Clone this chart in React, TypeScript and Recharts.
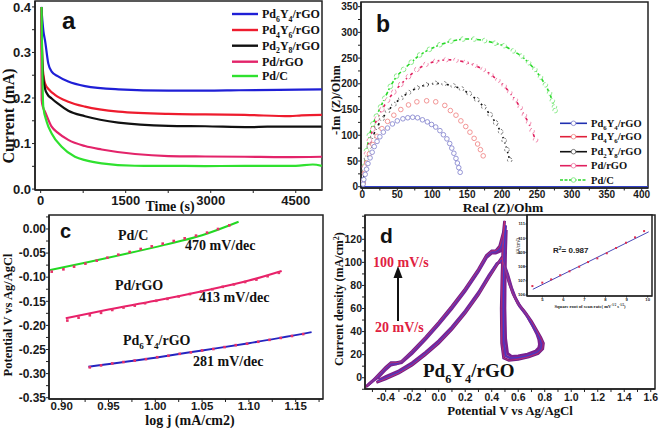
import React from 'react';
import { LineChart, ComposedChart, Line, Scatter, XAxis, YAxis, ReferenceArea, ReferenceLine } from 'recharts';

const SERIF = "'Liberation Serif', 'Times New Roman', serif";
const SANS = "'Liberation Sans', Arial, sans-serif";
const AX = '#222';

// ---------------- Panel a : current vs time ----------------
const aNames = [['Pd', '6', 'Y', '4', '/rGO'], ['Pd', '4', 'Y', '6', '/rGO'], ['Pd', '2', 'Y', '8', '/rGO'], ['Pd/rGO'], ['Pd/C']];
const aColors = ['#1f1fd6', '#ee1c2e', '#111111', '#e3246a', '#2fe12f'];
const aPd6Y4 = [[10, 0.4], [30, 0.37], [50, 0.345], [76, 0.327], [134, 0.276], [194, 0.258], [300, 0.248], [487, 0.236], [782, 0.226], [1370, 0.219], [2252, 0.216], [2900, 0.216], [3500, 0.217], [4200, 0.218], [4960, 0.219]];
const aPd4Y6 = [[10, 0.4], [20, 0.33], [35, 0.27], [50, 0.25], [76, 0.232], [150, 0.218], [252, 0.207], [487, 0.192], [782, 0.181], [1370, 0.17], [2252, 0.165], [2900, 0.164], [3600, 0.163], [4400, 0.16], [4600, 0.162], [4960, 0.163]];
const aPd2Y8 = [[12, 0.4], [22, 0.31], [35, 0.26], [50, 0.24], [76, 0.221], [120, 0.208], [194, 0.199], [300, 0.188], [487, 0.172], [782, 0.16], [1370, 0.146], [2252, 0.139], [2900, 0.138], [3700, 0.136], [4000, 0.137], [4960, 0.137]];
const aPdrGO = [[8, 0.4], [14, 0.28], [18, 0.196], [40, 0.18], [76, 0.17], [194, 0.137], [300, 0.124], [487, 0.108], [782, 0.0945], [1076, 0.087], [1664, 0.077], [2252, 0.0725], [2900, 0.0716], [3600, 0.071], [4300, 0.07], [4960, 0.071]];
const aPdC = [[15, 0.4], [25, 0.3], [35, 0.22], [46, 0.181], [106, 0.148], [194, 0.122], [370, 0.093], [605, 0.071], [800, 0.063], [1076, 0.0565], [1664, 0.0513], [2300, 0.051], [2900, 0.0505], [3600, 0.051], [4500, 0.051], [4800, 0.054], [4960, 0.051]];
const aSeries = [aPd6Y4, aPd4Y6, aPd2Y8, aPdrGO, aPdC];
const aXTicks = [0, 750, 1500, 2250, 3000, 3750, 4500];
const aYTicks = [0, 0.05, 0.1, 0.15, 0.2, 0.25, 0.3, 0.35, 0.4];

// ---------------- Panel b : Nyquist ----------------
const bNames = aNames;
const bLineColors = ['#2030b0', '#e0203a', '#111111', '#e0205f', '#27d827'];
const bCircleColors = ['#8a8ad0', '#f08a8a', '#666666', '#ef7fa7', '#7ee87e'];
const bPd6Y4 = [[1, 5], [2, 14], [4, 24], [6, 34], [8, 45], [11, 56], [14, 67], [17, 78], [21, 88], [25, 97], [30, 106], [36, 114], [43, 122], [50, 128], [58, 132], [65, 134], [72, 135], [79, 134], [86, 130], [93, 126], [99, 121], [105, 116], [111, 109], [116, 101], [121, 93], [125, 84], [128, 75], [131, 65], [134, 55], [136, 46], [138, 37], [140, 28]];
const bPd4Y6 = [[1, 6], [3, 26], [6, 46], [10, 64], [15, 82], [21, 98], [28, 113], [36, 127], [45, 139], [55, 150], [66, 159], [78, 165], [92, 167], [105, 165], [118, 158], [126, 148], [134, 139], [141, 128], [148, 117], [154, 106], [160, 94], [165, 83], [169, 72], [173, 60]];
const bPd2Y8 = [[1, 8], [3, 32], [6, 55], [10, 78], [15, 98], [21, 116], [28, 132], [36, 147], [45, 160], [55, 172], [66, 183], [78, 192], [91, 198], [104, 201], [117, 200], [130, 196], [142, 190], [153, 181], [164, 169], [174, 155], [183, 140], [191, 124], [198, 107], [203, 90], [207, 72], [211, 52]];
const bPdrGO = [[1, 10], [3, 38], [6, 64], [10, 90], [15, 112], [21, 132], [28, 150], [36, 168], [45, 184], [55, 199], [66, 214], [78, 228], [91, 238], [105, 244], [120, 247], [134, 246], [148, 242], [161, 236], [173, 228], [184, 218], [194, 207], [203, 196], [211, 183], [219, 169], [226, 154], [232, 139], [238, 124], [243, 108], [248, 91]];
const bPdC = [[1, 10], [3, 40], [6, 70], [10, 100], [15, 122], [20, 137], [26, 155], [32, 172], [40, 195], [49, 215], [59, 228], [70, 242], [82, 256], [96, 267], [111, 276], [127, 283], [144, 287], [160, 287], [175, 284], [190, 279], [203, 274], [216, 264], [228, 254], [238, 241], [247, 228], [255, 213], [262, 198], [268, 182], [272, 167], [275, 155], [276, 148]];
const bSeries = [bPd6Y4, bPd4Y6, bPd2Y8, bPdrGO, bPdC];
const bDash = [null, null, '2 3', '3 3', '4 2'];
const bXTicks = [0, 25, 50, 75, 100, 125, 150, 175, 200, 225, 250, 275, 300, 325, 350, 375, 400];
const bYTicks = [0, 25, 50, 75, 100, 125, 150, 175, 200, 225, 250, 275, 300, 325, 350];

// ---------------- Panel c : Tafel ----------------
const cPdCDots = [[0.8893, -0.0885], [0.9018, -0.0837], [0.9132, -0.0781], [0.9253, -0.0719], [0.9374, -0.0657], [0.9488, -0.0595], [0.9605, -0.0533], [0.9726, -0.0477], [0.9844, -0.0415], [0.9962, -0.036], [1.0079, -0.0304], [1.0197, -0.0249], [1.0314, -0.0194], [1.0435, -0.0138], [1.0553, -0.0076], [1.067, 0.0], [1.0791, 0.0076]];
const cPdCFit = [[0.8875, -0.085], [0.93, -0.068], [0.97, -0.051], [1.01, -0.033], [1.05, -0.013], [1.089, 0.015]];
const cPdrGODots = [[0.906, -0.19], [0.918, -0.184], [0.93, -0.179], [0.942, -0.174], [0.954, -0.168], [0.966, -0.163], [0.978, -0.159], [0.989, -0.154], [1.001, -0.149], [1.013, -0.145], [1.025, -0.14], [1.037, -0.135], [1.049, -0.13], [1.061, -0.125], [1.072, -0.12], [1.084, -0.115], [1.096, -0.11], [1.108, -0.105], [1.12, -0.098], [1.132, -0.091]];
const cPdrGOFit = [[0.9043, -0.185], [0.95, -0.167], [1.0, -0.149], [1.05, -0.129], [1.1, -0.107], [1.135, -0.087]];
const cPd6Y4Dots = [[0.93, -0.287], [0.942, -0.283], [0.954, -0.279], [0.966, -0.276], [0.978, -0.273], [0.99, -0.27], [1.002, -0.266], [1.014, -0.263], [1.026, -0.259], [1.038, -0.256], [1.05, -0.252], [1.062, -0.249], [1.074, -0.245], [1.086, -0.241], [1.098, -0.238], [1.11, -0.234], [1.122, -0.23], [1.134, -0.226], [1.146, -0.222], [1.158, -0.218]];
const cPd6Y4Fit = [[0.9285, -0.2856], [1.0, -0.267], [1.05, -0.252], [1.1, -0.237], [1.167, -0.214]];
const cXTicks = [0.9, 0.925, 0.95, 0.975, 1.0, 1.025, 1.05, 1.075, 1.1, 1.125, 1.15, 1.175];
const cYTicks = [-0.35, -0.325, -0.3, -0.275, -0.25, -0.225, -0.2, -0.175, -0.15, -0.125, -0.1, -0.075, -0.05, -0.025, 0, 0.025];

// ---------------- Panel d : CV ----------------
const dLoop100 = [[-0.47, -4], [-0.4, -1], [-0.3, 4], [-0.2, 11], [-0.1, 20], [0.0, 30], [0.1, 42], [0.2, 56], [0.3, 72], [0.38, 87], [0.44, 98], [0.475, 104], [0.5, 95], [0.53, 83], [0.56, 73], [0.6, 64], [0.65, 57], [0.7, 49], [0.74, 41], [0.77, 35], [0.79, 30], [0.785, 25], [0.75, 21], [0.68, 18], [0.6, 16], [0.53, 15], [0.49, 17], [0.475, 30], [0.472, 60], [0.478, 90], [0.485, 115], [0.497, 136], [0.488, 126], [0.46, 114], [0.43, 110], [0.4, 110], [0.36, 106], [0.3, 94], [0.2, 77], [0.1, 62], [0.0, 48], [-0.1, 35], [-0.2, 23], [-0.28, 14], [-0.32, 13], [-0.36, 13], [-0.4, 9], [-0.45, 3], [-0.5, -3], [-0.55, -8]];
const dLoop60 = [[-0.46, -3], [-0.4, 0], [-0.3, 5], [-0.2, 12], [-0.1, 21], [0.0, 31], [0.1, 43], [0.2, 57], [0.3, 73], [0.38, 88], [0.44, 99], [0.48, 102], [0.51, 92], [0.54, 80], [0.57, 71], [0.61, 62], [0.66, 55], [0.7, 47], [0.74, 39], [0.765, 33], [0.775, 29], [0.77, 25], [0.74, 22], [0.67, 19], [0.6, 17.5], [0.54, 17], [0.505, 19], [0.49, 32], [0.487, 60], [0.49, 90], [0.495, 112], [0.505, 132], [0.495, 122], [0.465, 112], [0.43, 109], [0.4, 109], [0.36, 105], [0.3, 93], [0.2, 76], [0.1, 61], [0.0, 47], [-0.1, 34], [-0.2, 22], [-0.28, 14], [-0.32, 12], [-0.36, 12], [-0.4, 8], [-0.45, 2], [-0.5, -3], [-0.54, -7]];
const dLoop20 = [[-0.45, -2], [-0.4, 1], [-0.3, 6], [-0.2, 13], [-0.1, 22], [0.0, 32], [0.1, 44], [0.2, 58], [0.3, 74], [0.38, 89], [0.44, 99], [0.485, 101], [0.52, 90], [0.55, 78], [0.58, 69], [0.62, 61], [0.67, 53], [0.71, 45], [0.74, 38], [0.755, 33], [0.76, 29], [0.755, 26], [0.73, 23], [0.67, 20.5], [0.6, 19], [0.55, 18.5], [0.52, 21], [0.505, 34], [0.5, 60], [0.502, 90], [0.505, 110], [0.51, 128], [0.5, 118], [0.47, 110], [0.43, 108], [0.4, 108], [0.36, 104], [0.3, 92], [0.2, 75], [0.1, 60], [0.0, 46], [-0.1, 33], [-0.2, 21], [-0.28, 13], [-0.32, 12], [-0.36, 11], [-0.4, 7], [-0.45, 1], [-0.5, -3], [-0.53, -6]];
const dXTicks = [-0.5, -0.4, -0.3, -0.2, -0.1, 0, 0.1, 0.2, 0.3, 0.4, 0.5, 0.6, 0.7, 0.8, 0.9, 1.0, 1.1, 1.2, 1.3, 1.4, 1.5, 1.6];
const dYTicks = [-10, 0, 10, 20, 30, 40, 50, 60, 70, 80, 90, 100, 110, 120, 130, 140];

// inset: j vs sqrt(scan rate)
const insetDots = [[4.53, 106.63], [5.0, 106.87], [5.42, 107.1], [5.85, 107.39], [6.29, 107.67], [6.75, 107.99], [7.17, 108.32], [7.61, 108.58], [8.06, 108.94], [8.5, 109.31], [8.97, 109.68], [9.4, 110.06], [9.83, 110.5]];
const insetFit = [[4.55, 106.4], [10.05, 110.45]];
const insetXTicks = [5, 6, 7, 8, 9, 10];
const insetYTicks = [106, 107, 108, 109, 110, 111];

const pts = (arr: number[][]) => arr.map(([x, y]) => ({ x, y }));

const major = (v: number, step: number) => Math.abs(v / step - Math.round(v / step)) < 1e-6;

const sq = (size: number, color: string) => (p: any) => (
  <rect x={p.cx - size / 2} y={p.cy - size / 2} width={size} height={size} fill={color} />
);

const tickStyle = (size: number) => ({ fontSize: size, fontWeight: 700, fill: '#1a1a1a', fontFamily: SANS });

function Frame({ x, y }: { x: number[]; y: number[] }) {
  return <ReferenceArea x1={x[0]} x2={x[1]} y1={y[0]} y2={y[1]} fill="none" stroke={AX} strokeWidth={1.5} ifOverflow="visible" />;
}

function Chem({ x, y, size, parts, anchor = 'start', fill = '#111', rotate }: any) {
  let cur = 0;
  const spans = parts.map((p: string, i: number) => {
    const isSub = i % 2 === 1;
    const target = isSub ? size * 0.3 : 0;
    const dy = target - cur;
    cur = target;
    return (
      <tspan key={i} dy={dy} fontSize={isSub ? size * 0.65 : size}>{p}</tspan>
    );
  });
  return (
    <text x={x} y={y} fontFamily={SERIF} fontWeight={700} fontSize={size} fill={fill} textAnchor={anchor}
      transform={rotate ? `rotate(${rotate} ${x} ${y})` : undefined}>{spans}</text>
  );
}

const aXD = [-100, 4963], aYD = [-0.002, 0.413];
function PanelA() {
  return (
    <LineChart width={330} height={215} margin={{ top: 1, right: 8, left: 0, bottom: 0 }}>
      <XAxis type="number" dataKey="x" domain={aXD} allowDataOverflow ticks={aXTicks} interval={0}
        tickFormatter={(v: number) => (major(v, 1500) ? String(v) : '')} height={25} tickSize={3} tickMargin={3}
        tick={tickStyle(13)} axisLine={{ stroke: AX, strokeWidth: 1.5 }} tickLine={{ stroke: AX }} />
      <YAxis type="number" dataKey="y" domain={aYD} allowDataOverflow ticks={aYTicks} interval={0}
        tickFormatter={(v: number) => (major(v, 0.1) ? v.toFixed(1) : '')} width={35} tickSize={3} tickMargin={1}
        tick={tickStyle(13)} axisLine={{ stroke: AX, strokeWidth: 1.5 }} tickLine={{ stroke: AX }} />
      <Frame x={aXD} y={aYD} />
      {aSeries.map((s, i) => (
        <Line key={i} data={pts(s)} dataKey="y" type="monotone" stroke={aColors[i]} strokeWidth={2.2} dot={false} activeDot={false} isAnimationActive={false} />
      ))}
    </LineChart>
  );
}

const bXD = [-2, 409], bYD = [-2.5, 359];
function PanelB() {
  const order = [4, 3, 2, 1, 0];
  return (
    <LineChart width={332} height={215} margin={{ top: 2, right: 14, left: 0, bottom: 0 }}>
      <XAxis type="number" dataKey="x" domain={bXD} allowDataOverflow ticks={bXTicks} interval={0}
        tickFormatter={(v: number) => (major(v, 50) ? String(v) : '')} height={27} tickSize={2.5} tickMargin={0}
        tick={tickStyle(10)} axisLine={{ stroke: AX, strokeWidth: 1.5 }} tickLine={{ stroke: AX }} />
      <YAxis type="number" dataKey="y" domain={bYD} allowDataOverflow ticks={bYTicks} interval={0}
        tickFormatter={(v: number) => (major(v, 50) ? String(v) : '')} width={31} tickSize={3} tickMargin={0}
        tick={tickStyle(10)} axisLine={{ stroke: AX, strokeWidth: 1.5 }} tickLine={{ stroke: AX }} />
      <Frame x={bXD} y={bYD} />
      <ReferenceLine y={0} stroke="#3040c8" strokeWidth={1.3} segment={[{ x: 0, y: 0 }, { x: 400, y: 0 }]} />
      {order.map((i) => (
        <Line key={i} data={pts(bSeries[i])} dataKey="y" type="linear"
          stroke={bDash[i] ? bLineColors[i] : 'none'} strokeDasharray={bDash[i] || undefined} strokeWidth={1.6}
          dot={{ r: 2.3, fill: '#fff', stroke: bCircleColors[i], strokeWidth: 0.9 }} activeDot={false} isAnimationActive={false} />
      ))}
    </LineChart>
  );
}

const cXD = [0.8864, 1.1792], cYD = [-0.3527, 0.029];
function PanelC() {
  const dotC = '#e8306a';
  return (
    <ComposedChart width={330} height={218} margin={{ top: 5, right: 7, left: 0, bottom: 0 }}>
      <XAxis type="number" dataKey="x" domain={cXD} allowDataOverflow ticks={cXTicks} interval={0}
        tickFormatter={(v: number) => (major(v, 0.05) ? v.toFixed(2) : '')} height={29} tickSize={3} tickMargin={0}
        tick={tickStyle(11.5)} axisLine={{ stroke: AX, strokeWidth: 1.5 }} tickLine={{ stroke: AX }} />
      <YAxis type="number" dataKey="y" domain={cYD} allowDataOverflow ticks={cYTicks} interval={0}
        tickFormatter={(v: number) => (major(v, 0.05) ? v.toFixed(2) : '')} width={49} tickSize={3} tickMargin={0}
        tick={tickStyle(12)} axisLine={{ stroke: AX, strokeWidth: 1.5 }} tickLine={{ stroke: AX }} />
      <Frame x={cXD} y={cYD} />
      <Line data={pts(cPdCFit)} dataKey="y" type="monotone" stroke="#22d822" strokeWidth={2} dot={false} activeDot={false} isAnimationActive={false} />
      <Line data={pts(cPdrGOFit)} dataKey="y" type="monotone" stroke="#e8206a" strokeWidth={2} dot={false} activeDot={false} isAnimationActive={false} />
      <Line data={pts(cPd6Y4Fit)} dataKey="y" type="monotone" stroke="#2424c0" strokeWidth={2} dot={false} activeDot={false} isAnimationActive={false} />
      <Scatter data={pts(cPdCDots)} dataKey="y" shape={sq(2.6, dotC)} isAnimationActive={false} />
      <Scatter data={pts(cPdrGODots)} dataKey="y" shape={sq(2.6, dotC)} isAnimationActive={false} />
      <Scatter data={pts(cPd6Y4Dots)} dataKey="y" shape={sq(2.6, dotC)} isAnimationActive={false} />
    </ComposedChart>
  );
}

const dXD = [-0.556, 1.632], dYD = [-9.78, 141.07];
function PanelD() {
  return (
    <LineChart width={332} height={218} margin={{ top: 5, right: 7, left: 0, bottom: 0 }}>
      <XAxis type="number" dataKey="x" domain={dXD} allowDataOverflow ticks={dXTicks} interval={0}
        tickFormatter={(v: number) => (major(v, 0.2) && v > -0.45 ? v.toFixed(1) : '')} height={39} tickSize={3} tickMargin={1.5}
        tick={tickStyle(10.5)} axisLine={{ stroke: AX, strokeWidth: 1.5 }} tickLine={{ stroke: AX }} />
      <YAxis type="number" dataKey="y" domain={dYD} allowDataOverflow ticks={dYTicks} interval={0}
        tickFormatter={(v: number) => (major(v, 20) && v >= 0 && v <= 120 ? String(v) : '')} width={35} tickSize={3} tickMargin={0}
        tick={tickStyle(10.5)} axisLine={{ stroke: AX, strokeWidth: 1.5 }} tickLine={{ stroke: AX }} />
      <Frame x={dXD} y={dYD} />
      <Line data={pts(dLoop100)} dataKey="y" type="linear" stroke="#6e1e8a" strokeWidth={2.8} dot={false} activeDot={false} isAnimationActive={false} />
      <Line data={pts(dLoop20)} dataKey="y" type="linear" stroke="#7a2090" strokeWidth={2.8} dot={false} activeDot={false} isAnimationActive={false} />
      <Line data={pts(dLoop60)} dataKey="y" type="linear" stroke="#7e2a96" strokeWidth={2.8} dot={false} activeDot={false} isAnimationActive={false} />
      <Line data={pts(dLoop60)} dataKey="y" type="linear" stroke="#3c3cd0" strokeWidth={1} dot={false} activeDot={false} isAnimationActive={false} />
      <Line data={pts(dLoop100)} dataKey="y" type="linear" stroke="#d0306a" strokeWidth={0.7} dot={false} activeDot={false} isAnimationActive={false} />
    </LineChart>
  );
}

const iXD = [4.274, 10.205], iYD = [105.93, 111.634];
function Inset() {
  const t = { fontSize: 4.2, fontWeight: 700, fill: '#222', fontFamily: SANS };
  return (
    <ComposedChart width={141} height={98} margin={{ top: 3, right: 1, left: 0, bottom: 6 }}>
      <XAxis type="number" dataKey="x" domain={iXD} allowDataOverflow ticks={insetXTicks} interval={0}
        height={8} tickSize={1.5} tickMargin={0.3} tick={t} axisLine={{ stroke: AX, strokeWidth: 1.2 }} tickLine={{ stroke: AX }} />
      <YAxis type="number" dataKey="y" domain={iYD} allowDataOverflow ticks={insetYTicks} interval={0}
        width={15} tickSize={1.5} tickMargin={0.5} tick={t} axisLine={{ stroke: AX, strokeWidth: 1.2 }} tickLine={{ stroke: AX }} />
      <Frame x={iXD} y={iYD} />
      <Line data={pts(insetFit)} dataKey="y" type="linear" stroke="#4848b8" strokeWidth={1} dot={false} activeDot={false} isAnimationActive={false} />
      <Scatter data={pts(insetDots)} dataKey="y" shape={sq(2, '#e03050')} isAnimationActive={false} />
    </ComposedChart>
  );
}

function Overlay() {
  const aRows = [14, 30, 45.7, 61.7, 76];
  const bRows = [123.3, 136.7, 151.7, 165.7, 180];
  const red = '#e02040';
  return (
    <svg width={662} height={428} style={{ position: 'absolute', left: 0, top: 0, pointerEvents: 'none' }}>
      {/* panel letters */}
      <text x={62} y={29} fontFamily={SANS} fontWeight={700} fontSize={24} fill="#111">a</text>
      <text x={376} y={31.5} fontFamily={SANS} fontWeight={700} fontSize={23} fill="#111">b</text>
      <text x={60} y={238} fontFamily={SANS} fontWeight={700} fontSize={20} fill="#111">c</text>
      <text x={380} y={243} fontFamily={SANS} fontWeight={700} fontSize={21} fill="#111">d</text>

      {/* axis titles */}
      <text x={14} y={116} transform="rotate(-90 14 116)" textAnchor="middle" fontFamily={SERIF} fontWeight={700} fontSize={16} fill="#111">Current (mA)</text>
      <text x={170} y={211} textAnchor="middle" fontFamily={SERIF} fontWeight={700} fontSize={14} fill="#111">Time (s)</text>
      <text x={340} y={100} transform="rotate(-90 340 100)" textAnchor="middle" fontFamily={SERIF} fontWeight={700} fontSize={12.5} fill="#111">-Im (Z)/Ohm</text>
      <text x={503} y={212} textAnchor="middle" fontFamily={SERIF} fontWeight={700} fontSize={13.5} fill="#111">Real (Z)/Ohm</text>
      <text x={12} y={315} transform="rotate(-90 12 315)" textAnchor="middle" fontFamily={SERIF} fontWeight={700} fontSize={12.5} fill="#111">Potential V vs Ag/AgCl</text>
      <text x={190} y={425} textAnchor="middle" fontFamily={SERIF} fontWeight={700} fontSize={14} fill="#111">log j (mA/cm2)</text>
      <text x={342.5} y={299} transform="rotate(-90 342.5 299)" textAnchor="middle" fontFamily={SERIF} fontWeight={700} fontSize={12} fill="#111">
        Current density (mA/cm<tspan dy={-4} fontSize={8}>2</tspan><tspan dy={4}>)</tspan>
      </text>
      <text x={510} y={415} textAnchor="middle" fontFamily={SERIF} fontWeight={700} fontSize={12.8} fill="#111">Potential V vs Ag/AgCl</text>

      {/* legend a */}
      {aRows.map((y, i) => (
        <g key={'la' + i}>
          <line x1={232} x2={258} y1={y} y2={y} stroke={aColors[i]} strokeWidth={2.4} />
          <Chem x={262} y={y + 4} size={12} parts={aNames[i]} />
        </g>
      ))}

      {/* legend b */}
      {bRows.map((y, i) => (
        <g key={'lb' + i}>
          <line x1={560} x2={587} y1={y} y2={y} stroke={bLineColors[i]} strokeWidth={1.6} strokeDasharray={i === 4 ? '3 1.5' : undefined} />
          <circle cx={573.5} cy={y} r={2.3} fill="#fff" stroke={bCircleColors[i]} strokeWidth={0.9} />
          <Chem x={591} y={y + 3.5} size={10.5} parts={bNames[i]} />
        </g>
      ))}

      {/* panel c annotations */}
      <Chem x={118} y={240} size={14} parts={['Pd/C']} />
      <Chem x={185} y={250} size={14} parts={['470 mV/dec']} />
      <Chem x={115} y={290} size={14} parts={['Pd/rGO']} />
      <Chem x={199} y={302} size={14} parts={['413 mV/dec']} />
      <Chem x={123} y={345} size={14} parts={['Pd', '6', 'Y', '4', '/rGO']} />
      <Chem x={193} y={366} size={14} parts={['281 mV/dec']} />

      {/* panel d annotations */}
      <Chem x={373} y={267} size={14} parts={['100 mV/s']} fill={red} />
      <Chem x={375} y={332} size={14} parts={['20 mV/s']} fill={red} />
      <line x1={398} y1={321} x2={398} y2={276} stroke="#111" strokeWidth={2} />
      <polygon points="398,266 393.5,278 402.5,278" fill="#111" />
      <Chem x={423} y={377} size={19} parts={['Pd', '6', 'Y', '4', '/rGO']} />

      {/* inset annotations */}
      <text x={553} y={252.5} fontFamily={SANS} fontWeight={700} fontSize={8} fill="#222">
        R<tspan dy={-3} fontSize={5}>2</tspan><tspan dy={3}>= 0.987</tspan>
      </text>
      <text x={520} y={246} transform="rotate(-90 520 246)" textAnchor="middle" fontFamily={SANS} fontSize={4.5} fill="#222">
        j(A/cm<tspan dy={-1.5} fontSize={3}>2</tspan><tspan dy={1.5}>)</tspan>
      </text>
      <text x={590} y={307.5} textAnchor="middle" fontFamily={SERIF} fontWeight={700} fontSize={4.6} fill="#222">
        Square root of scan rate( mV<tspan dy={-1.6} fontSize={3}>-1/2</tspan><tspan dy={1.6}> s</tspan><tspan dy={-1.6} fontSize={3}>-1/2</tspan><tspan dy={1.6}>)</tspan>
      </text>
    </svg>
  );
}

export default function App() {
  return (
    <div style={{ position: 'absolute', left: 0, top: 0, width: 662, height: 428, background: '#fff', overflow: 'hidden' }}>
      <div style={{ position: 'absolute', left: 0, top: 0 }}><PanelA /></div>
      <div style={{ position: 'absolute', left: 330, top: 0 }}><PanelB /></div>
      <div style={{ position: 'absolute', left: 0, top: 210 }}><PanelC /></div>
      <div style={{ position: 'absolute', left: 330, top: 210 }}><PanelD /></div>
      <div style={{ position: 'absolute', left: 527, top: 215, width: 125, height: 81, background: '#fff' }} />
      <div style={{ position: 'absolute', left: 512, top: 212 }}><Inset /></div>
      <Overlay />
    </div>
  );
}
